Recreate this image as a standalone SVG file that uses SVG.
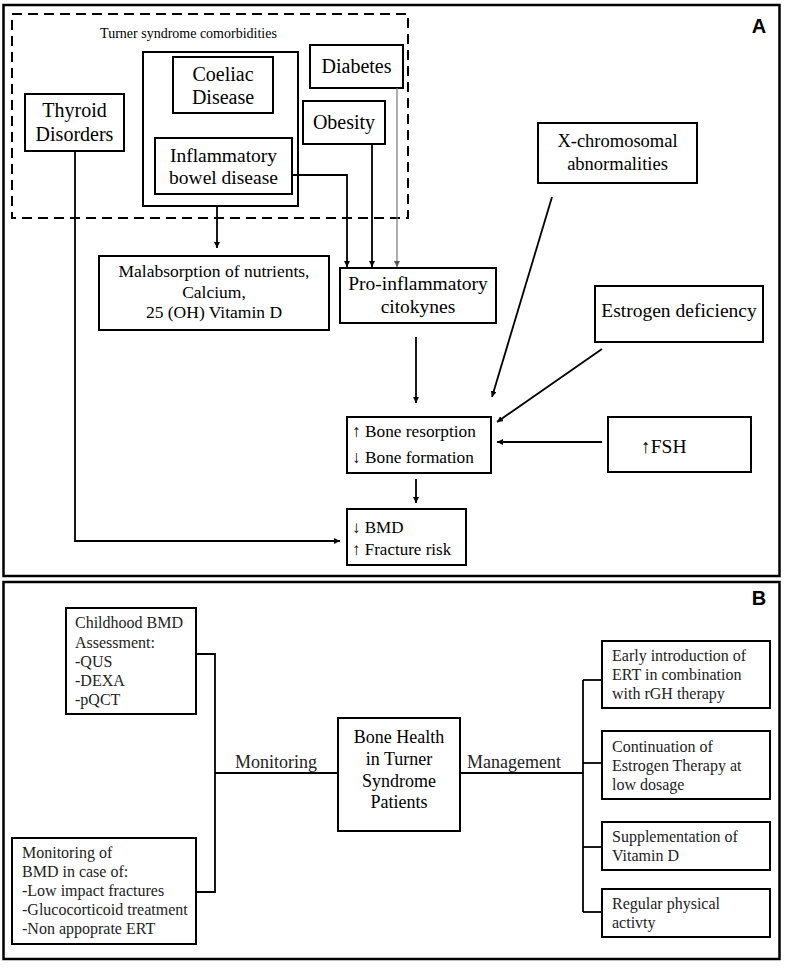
<svg xmlns="http://www.w3.org/2000/svg" width="785" height="969" viewBox="0 0 785 969">
<defs>
<style>
.frame{fill:none;stroke:#000;stroke-width:2.5}
.box{fill:#fff;stroke:#000;stroke-width:2}
.dash{fill:none;stroke:#000;stroke-width:2;stroke-dasharray:10 6}
.ln{fill:none;stroke:#000;stroke-width:1.8}
.thin{fill:none;stroke:#777;stroke-width:1.2}
.c{text-anchor:middle}
.b{fill:#222}
</style>
<marker id="ah" viewBox="0 0 10 10" refX="10" refY="5" markerWidth="6" markerHeight="6" markerUnits="userSpaceOnUse" orient="auto">
<path d="M0,0 L10,5 L0,10 z" fill="#000"/>
</marker>
<marker id="ahg" viewBox="0 0 10 10" refX="10" refY="5" markerWidth="6" markerHeight="6" markerUnits="userSpaceOnUse" orient="auto">
<path d="M0,0 L10,5 L0,10 z" fill="#555"/>
</marker>
</defs>
<rect width="785" height="969" fill="#fff"/>

<g font-family="Liberation Sans, Arial, sans-serif" font-weight="bold" font-size="20" text-anchor="middle">
<g id="panelA">
<rect class="frame" x="3.5" y="5" width="776" height="571"/>
<text x="759" y="33">A</text>
</g>
<g id="panelB">
<rect class="frame" x="3.5" y="582" width="776" height="377"/>
<text x="759" y="605">B</text>
</g>
</g>

<g font-family="Liberation Serif, Times New Roman, serif" fill="#000">
<g id="comorbidities">
<rect class="dash" x="12" y="14" width="396" height="204"/>
<text class="c" x="188.5" y="38" font-size="14">Turner syndrome comorbidities</text>
</g>
<g id="gi-group"><rect class="box" x="143" y="52" width="155" height="154"/></g>
<g id="coeliac">
<rect class="box" x="173" y="57" width="100" height="56"/>
<text class="c" x="223" y="81" font-size="20">Coeliac</text>
<text class="c" x="223" y="104" font-size="20">Disease</text>
</g>
<g id="ibd">
<rect class="box" x="155" y="138" width="137" height="56"/>
<text class="c" x="223.5" y="162" font-size="19.5">Inflammatory</text>
<text class="c" x="223.5" y="184" font-size="19.5">bowel disease</text>
</g>
<g id="thyroid">
<rect class="box" x="25" y="94" width="99" height="57"/>
<text class="c" x="74.5" y="117" font-size="20">Thyroid</text>
<text class="c" x="74.5" y="141" font-size="20">Disorders</text>
</g>
<g id="diabetes">
<rect class="box" x="310" y="45" width="93" height="43"/>
<text class="c" x="356.5" y="73" font-size="20">Diabetes</text>
</g>
<g id="obesity">
<rect class="box" x="303" y="101" width="82" height="43"/>
<text class="c" x="344" y="129" font-size="20">Obesity</text>
</g>
<g id="malabsorption">
<rect class="box" x="99" y="256" width="230" height="74"/>
<text class="c" x="214" y="277" font-size="17.5">Malabsorption of nutrients,</text>
<text class="c" x="214" y="298" font-size="17.5">Calcium,</text>
<text class="c" x="214" y="318" font-size="17.5">25 (OH) Vitamin D</text>
</g>
<g id="proinflammatory">
<rect class="box" x="340" y="268" width="156" height="55"/>
<text class="c" x="418" y="290" font-size="19.5">Pro-inflammatory</text>
<text class="c" x="418" y="313" font-size="19.5">citokynes</text>
</g>
<g id="xchrom">
<rect class="box" x="538" y="123" width="159" height="60"/>
<text class="c" x="617.5" y="147" font-size="18.5">X-chromosomal</text>
<text class="c" x="617.5" y="170" font-size="18.5">abnormalities</text>
</g>
<g id="estrogen">
<rect class="box" x="595" y="286" width="168" height="56"/>
<text class="c" x="679" y="317" font-size="19.5">Estrogen deficiency</text>
</g>
<g id="bone">
<rect class="box" x="347" y="417" width="144" height="56"/>
<text x="352" y="437" font-size="17.3">↑ Bone resorption</text>
<text x="352" y="463" font-size="17.3">↓ Bone formation</text>
</g>
<g id="fsh">
<rect class="box" x="608" y="417" width="143" height="55"/>
<text x="641" y="453" font-size="19.5">↑FSH</text>
</g>
<g id="bmd">
<rect class="box" x="347" y="509" width="119" height="56"/>
<text x="352" y="533" font-size="17">↓ BMD</text>
<text x="352" y="555" font-size="17">↑ Fracture risk</text>
</g>

<g id="childhood">
<rect class="box" x="66" y="608" width="130" height="106"/>
<text class="b" x="75" y="628" font-size="16">Childhood BMD</text>
<text class="b" x="75" y="648" font-size="16">Assessment:</text>
<text class="b" x="75" y="667" font-size="16">-QUS</text>
<text class="b" x="75" y="686" font-size="16">-DEXA</text>
<text class="b" x="75" y="705" font-size="16">-pQCT</text>
</g>
<g id="monitoringbox">
<rect class="box" x="12" y="838" width="184" height="106"/>
<text class="b" x="22" y="858" font-size="16">Monitoring of</text>
<text class="b" x="22" y="877" font-size="16">BMD in case of:</text>
<text class="b" x="22" y="896" font-size="16">-Low impact fractures</text>
<text class="b" x="22" y="915" font-size="16">-Glucocorticoid treatment</text>
<text class="b" x="22" y="934" font-size="16">-Non appoprate ERT</text>
</g>
<g id="bonehealth">
<rect class="box" x="338" y="718" width="122" height="113"/>
<text class="c" x="399" y="743" font-size="18">Bone Health</text>
<text class="c" x="399" y="765" font-size="18">in Turner</text>
<text class="c" x="399" y="787" font-size="18">Syndrome</text>
<text class="c" x="399" y="808" font-size="18">Patients</text>
</g>
<g id="ert">
<rect class="box" x="602" y="641" width="168" height="67"/>
<text class="b" x="612" y="661" font-size="16">Early introduction of</text>
<text class="b" x="612" y="680" font-size="16">ERT in combination</text>
<text class="b" x="612" y="699" font-size="16">with rGH therapy</text>
</g>
<g id="continuation">
<rect class="box" x="602" y="731" width="168" height="68"/>
<text class="b" x="612" y="752" font-size="16">Continuation of</text>
<text class="b" x="612" y="771" font-size="16">Estrogen Therapy at</text>
<text class="b" x="612" y="790" font-size="16">low dosage</text>
</g>
<g id="vitd">
<rect class="box" x="602" y="822" width="168" height="48"/>
<text class="b" x="612" y="842" font-size="16">Supplementation of</text>
<text class="b" x="612" y="861" font-size="16">Vitamin D</text>
</g>
<g id="activity">
<rect class="box" x="602" y="889" width="168" height="48"/>
<text class="b" x="612" y="909" font-size="16">Regular physical</text>
<text class="b" x="612" y="928" font-size="16">activty</text>
</g>

<g id="connectors">
<line class="ln" x1="217" y1="206" x2="217" y2="248" marker-end="url(#ah)"/>
<polyline class="ln" points="292,175 347,175 347,267" marker-end="url(#ah)"/>
<line class="ln" x1="372" y1="144" x2="372" y2="267" marker-end="url(#ah)"/>
<line class="thin" x1="397" y1="88" x2="397" y2="267" marker-end="url(#ahg)"/>
<line class="ln" x1="416" y1="337" x2="416" y2="403" marker-end="url(#ah)"/>
<line class="ln" x1="552" y1="197" x2="492" y2="397" marker-end="url(#ah)"/>
<line class="ln" x1="602" y1="349" x2="497" y2="422" marker-end="url(#ah)"/>
<line class="ln" x1="602" y1="442" x2="497" y2="442" marker-end="url(#ah)"/>
<line class="ln" x1="416" y1="479" x2="416" y2="503" marker-end="url(#ah)"/>
<polyline class="ln" points="75,151 75,541 340,541" marker-end="url(#ah)"/>
<polyline class="ln" points="196,654 215,654 215,892 196,892"/>
<line class="ln" x1="215" y1="773" x2="338" y2="773"/>
<line class="ln" x1="460" y1="773" x2="583" y2="773"/>
<line class="ln" x1="583" y1="680" x2="583" y2="912"/>
<line class="ln" x1="583" y1="680" x2="602" y2="680"/>
<line class="ln" x1="583" y1="763" x2="602" y2="763"/>
<line class="ln" x1="583" y1="847" x2="602" y2="847"/>
<line class="ln" x1="583" y1="912" x2="602" y2="912"/>
<text class="b c" x="276" y="768" font-size="18">Monitoring</text>
<text class="b c" x="514" y="768" font-size="18">Management</text>
</g>
</g>
</svg>
